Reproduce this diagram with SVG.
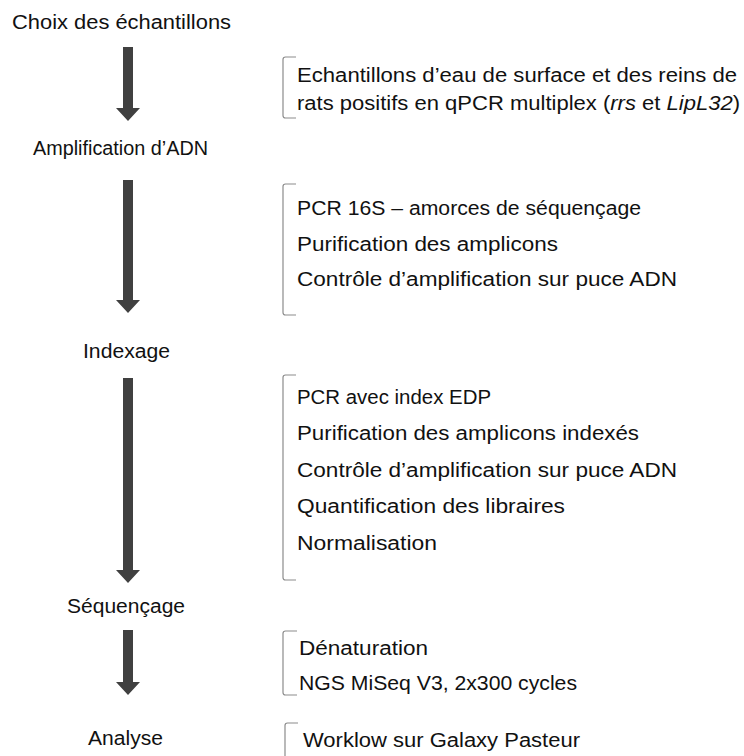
<svg xmlns="http://www.w3.org/2000/svg" width="744" height="756" viewBox="0 0 744 756">
<style>
text{font-family:"Liberation Sans","Noto Sans",sans-serif;font-size:20px;fill:#111}
.br{fill:none;stroke:#8c8c8c;stroke-width:1.2}
.ar{fill:#404040}
</style>
<rect width="744" height="756" fill="#fff"/>
<g id="step-choix"><text x="12" y="29" textLength="219" lengthAdjust="spacingAndGlyphs">Choix des échantillons</text></g>
<g id="step-amplification"><text x="33" y="155" textLength="175" lengthAdjust="spacingAndGlyphs">Amplification d’ADN</text></g>
<g id="step-indexage"><text x="83" y="358" textLength="87" lengthAdjust="spacingAndGlyphs">Indexage</text></g>
<g id="step-sequencage"><text x="67" y="613" textLength="118" lengthAdjust="spacingAndGlyphs">Séquençage</text></g>
<g id="step-analyse"><text x="88" y="745" textLength="75" lengthAdjust="spacingAndGlyphs">Analyse</text></g>

<g id="detail-1">
<path class="br" d="M296,57 H285.5 Q283,57 283,59.5 V115.5 Q283,118 285.5,118 H296"/>
<text x="297" y="82" textLength="440" lengthAdjust="spacingAndGlyphs">Echantillons d’eau de surface et des reins de</text>
<text x="297" y="110" textLength="443" lengthAdjust="spacingAndGlyphs">rats positifs en qPCR multiplex (<tspan font-style="italic">rrs</tspan> et <tspan font-style="italic">LipL32</tspan>)</text>
</g>
<g id="detail-2">
<path class="br" d="M296,184 H285.5 Q283,184 283,186.5 V312.5 Q283,315 285.5,315 H296"/>
<text x="297" y="215" textLength="344" lengthAdjust="spacingAndGlyphs">PCR 16S – amorces de séquençage</text>
<text x="297" y="251" textLength="261" lengthAdjust="spacingAndGlyphs">Purification des amplicons</text>
<text x="297" y="286" textLength="380" lengthAdjust="spacingAndGlyphs">Contrôle d’amplification sur puce ADN</text>
</g>
<g id="detail-3">
<path class="br" d="M296,375 H285.5 Q283,375 283,377.5 V577.5 Q283,580 285.5,580 H296"/>
<text x="297" y="404" textLength="194" lengthAdjust="spacingAndGlyphs">PCR avec index EDP</text>
<text x="297" y="440" textLength="342" lengthAdjust="spacingAndGlyphs">Purification des amplicons indexés</text>
<text x="297" y="477" textLength="380" lengthAdjust="spacingAndGlyphs">Contrôle d’amplification sur puce ADN</text>
<text x="297" y="513" textLength="268" lengthAdjust="spacingAndGlyphs">Quantification des libraires</text>
<text x="297" y="550" textLength="140" lengthAdjust="spacingAndGlyphs">Normalisation</text>
</g>
<g id="detail-4">
<path class="br" d="M297,631 H285.5 Q283,631 283,633.5 V692.5 Q283,695 285.5,695 H297"/>
<text x="299" y="655" textLength="129" lengthAdjust="spacingAndGlyphs">Dénaturation</text>
<text x="299" y="690" textLength="278" lengthAdjust="spacingAndGlyphs">NGS MiSeq V3, 2x300 cycles</text>
</g>
<g id="detail-5">
<path class="br" d="M298,723 H287.5 Q285,723 285,725.5 V756"/>
<text x="303" y="747" textLength="277" lengthAdjust="spacingAndGlyphs">Worklow sur Galaxy Pasteur</text>
</g>

<g id="connectors">
<path class="ar" d="M123,47 H133 V108 H140 L128,121 L116,108 H123 Z"/>
<path class="ar" d="M123,180 H133 V300 H140 L128,313 L116,300 H123 Z"/>
<path class="ar" d="M123,378 H133 V570 H140 L128,583 L116,570 H123 Z"/>
<path class="ar" d="M123,630 H133 V682 H140 L128,695 L116,682 H123 Z"/>
</g>
</svg>
